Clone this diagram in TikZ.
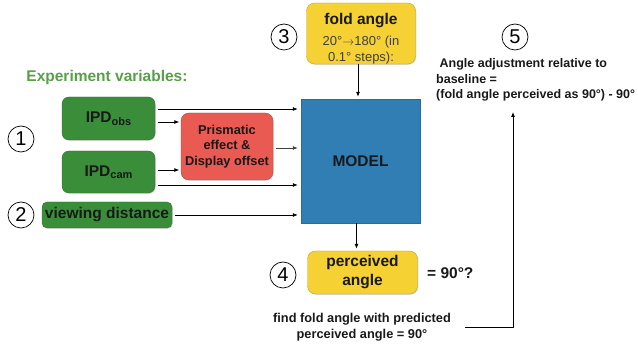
\documentclass[tikz,border=0pt]{standalone}
\usepackage{fontspec}
\setmainfont{Liberation Sans}
\usetikzlibrary{arrows.meta,shadows}

\definecolor{vargreen}{RGB}{58,142,58}
\definecolor{headgreen}{RGB}{88,160,72}
\definecolor{prismred}{RGB}{233,90,82}
\definecolor{modelblue}{RGB}{48,126,180}
\definecolor{angleyellow}{RGB}{245,209,52}

\newcommand{\sub}[1]{{\fontsize{11}{11}\selectfont\raisebox{-2.5pt}{#1}}}

\tikzset{
  boxshadow/.style={drop shadow={shadow xshift=0.8pt,shadow yshift=-0.8pt,opacity=0.3}},
  varbox/.style={rounded corners=7pt, fill=vargreen, draw=vargreen!80!black, line width=0.4pt,
    boxshadow, inner sep=0pt, font=\fontsize{15.5}{18}\selectfont\bfseries, text=black!90},
  prismbox/.style={rounded corners=8pt, fill=prismred, draw=prismred!80!black, line width=0.4pt,
    boxshadow, inner sep=0pt, align=center, font=\fontsize{12.8}{15.5}\selectfont\bfseries, text=black!90},
  modelbox/.style={fill=modelblue, draw=modelblue!85!black, line width=0.4pt, boxshadow,
    inner sep=0pt, font=\fontsize{15.5}{18}\selectfont\bfseries, text=black!90},
  anglebox/.style={rounded corners=8pt, fill=angleyellow, draw=angleyellow!80!black, line width=0.4pt,
    boxshadow, inner sep=0pt, align=center, text=black!90},
  numcirc/.style={circle, draw, line width=0.7pt, minimum size=26pt, inner sep=0pt,
    font=\fontsize{20}{20}\selectfont},
  note/.style={inner sep=0pt, font=\fontsize{12.8}{16}\selectfont\bfseries, text=black!90},
  arr/.style={-{Latex[length=5pt,width=4pt]}, line width=0.8pt, shorten <=3pt, shorten >=3pt}
}

\begin{document}
\begin{tikzpicture}[x=1pt,y=-1pt]
  \useasboundingbox (0,0) rectangle (638,347);

  % inputs on the left
  \node[font=\fontsize{15.5}{18}\selectfont\bfseries, text=headgreen] (vars) at (107,77) {Experiment variables:};
  \node[varbox, minimum width=93pt, minimum height=43pt] (obs) at (108.5,118.5) {IPD\sub{obs}};
  \node[varbox, minimum width=93pt, minimum height=42pt] (cam) at (108.5,172) {IPD\sub{cam}};
  \node[varbox, rounded corners=5pt, minimum width=130pt, minimum height=26pt] (dist) at (107,215) {viewing distance};
  \node[prismbox, minimum width=92pt, minimum height=67pt] (prism) at (227,146.5)
    {Prismatic\\effect \&\\Display offset};

  % model and angles
  \node[modelbox, minimum width=119pt, minimum height=124pt] (model) at (360.5,161) {MODEL};
  \node[anglebox, minimum width=109pt, minimum height=61pt] (fold) at (361,33.5)
    {{\fontsize{15.5}{18}\selectfont\bfseries\rule{0pt}{22pt}fold angle}\\[7pt]
     {\fontsize{13}{15}\selectfont\color{black!75}20°$\rightarrow$180° (in}\\[2.5pt]
     {\fontsize{13}{15}\selectfont\color{black!75}0.1° steps):}};
  \node[anglebox, minimum width=110pt, minimum height=43pt, font=\fontsize{15.5}{19}\selectfont\bfseries]
    (perc) at (362.5,272.5) {perceived\\angle};
  \node[note, anchor=west, font=\fontsize{15.5}{18}\selectfont\bfseries] (eq) at (427,273) {= 90°?};

  % numbering
  \node[numcirc] (n1) at (21,139) {1};
  \node[numcirc] (n2) at (21,215) {2};
  \node[numcirc] (n3) at (284,37) {3};
  \node[numcirc] (n4) at (283,275) {4};
  \node[numcirc] (n5) at (515,37) {5};

  % notes
  \node[note, anchor=north west, align=left, font=\fontsize{12.5}{15.5}\selectfont\bfseries] (adj) at (436,58.5)
    {\ Angle adjustment relative to\\baseline =\\(fold angle perceived as 90°) - 90°};
  \node[note, align=center] (find) at (362,327)
    {find fold angle with predicted\\perceived angle = 90°};

  % connectors
  \draw[arr] ([yshift=9.5pt]obs.east) -- ([yshift=9.5pt]obs.east -| model.west);
  \draw[arr, shorten >=1.5pt] ([yshift=-3.5pt]obs.east) -- ([yshift=-3.5pt]obs.east -| prism.west);
  \draw[arr, shorten >=1.5pt] ([yshift=2pt]cam.east) -- ([yshift=2pt]cam.east -| prism.west);
  \draw[arr] ([yshift=-13pt]cam.east) -- ([yshift=-13pt]cam.east -| model.west);
  \draw[arr, draw=black!75] ([yshift=-1.5pt]prism.east) -- ([yshift=-1.5pt]prism.east -| model.west);
  \draw[arr] (dist.east) -- (dist.east -| model.west);
  \draw[arr, shorten <=0pt, shorten >=2pt] ([xshift=-3pt]fold.south) -- ([xshift=-3pt]fold.south |- model.north);
  \draw[arr, shorten <=0pt, shorten >=2pt] ([xshift=-4pt]model.south) -- ([xshift=-4pt]model.south |- perc.north);

  % feedback loop back to the adjustment
  \coordinate (up) at (513,112);
  \draw[arr, shorten <=0pt, shorten >=0pt] ([xshift=14pt]find.east) -- (find.east -| up) -- (up);
\end{tikzpicture}
\end{document}
